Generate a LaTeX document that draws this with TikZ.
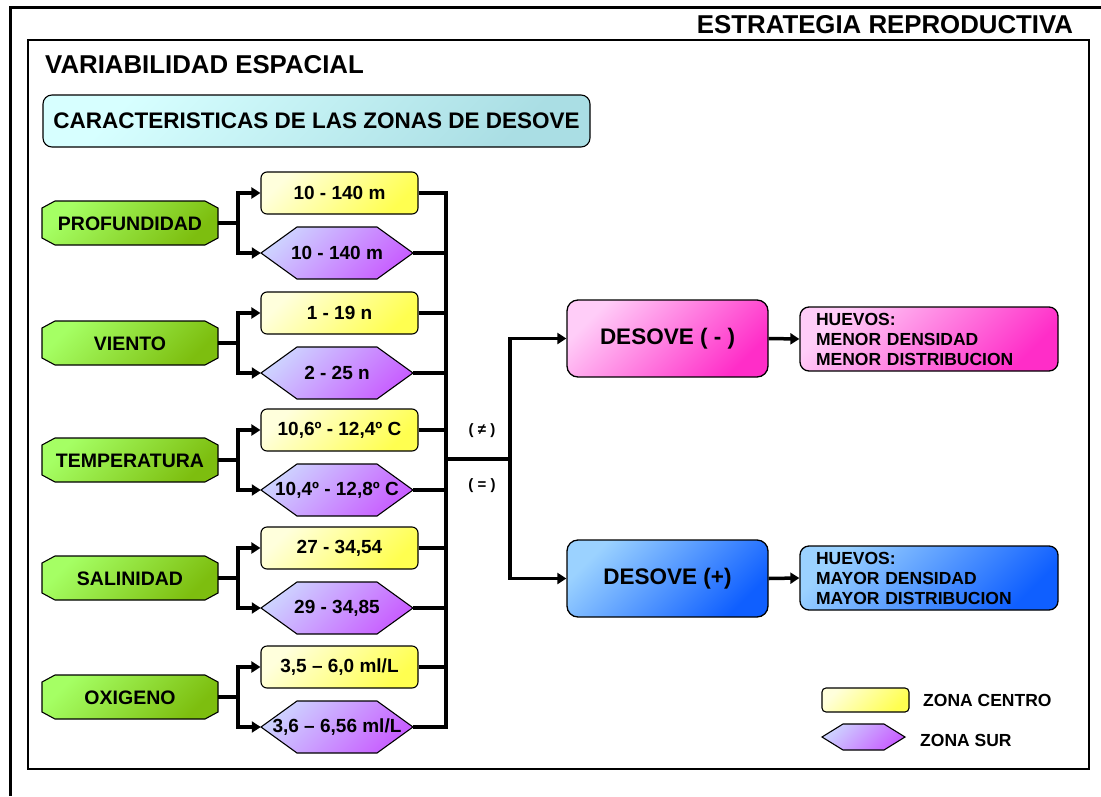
\documentclass[tikz,border=0pt]{standalone}
\usepackage{fontspec}
\setmainfont{Liberation Sans}
\usetikzlibrary{arrows.meta}
\definecolor{grnL}{RGB}{165,255,100}
\definecolor{grnD}{RGB}{125,190,15}
\definecolor{yelL}{RGB}{255,255,220}
\definecolor{yelD}{RGB}{255,255,80}
\definecolor{purL}{RGB}{205,210,255}
\definecolor{purD}{RGB}{200,95,255}
\definecolor{cyaL}{RGB}{215,255,255}
\definecolor{cyaD}{RGB}{170,222,228}
\definecolor{pnkL}{RGB}{255,205,248}
\definecolor{pnkD}{RGB}{255,45,200}
\definecolor{bluL}{RGB}{155,210,255}
\definecolor{bluD}{RGB}{15,95,255}

\newcommand\octnode[4]{%
  \path[octfill] ({#2-75},{#3-22}) -- ({#2+75},{#3-22}) -- ({#2+88},{#3-15}) -- ({#2+88},{#3+15}) -- ({#2+75},{#3+22}) -- ({#2-75},{#3+22}) -- ({#2-88},{#3+15}) -- ({#2-88},{#3-15}) -- cycle;
  \node[octtxt] (#1) at (#2,{#3+1}) {#4};}
\newcommand\hexnode[4]{%
  \path[hexfill] ({#2-76},{#3}) -- ({#2-40},{#3-26}) -- ({#2+40},{#3-26}) -- ({#2+76},{#3}) -- ({#2+40},{#3+26}) -- ({#2-40},{#3+26}) -- cycle;
  \node[hextxt] (#1) at (#2,{#3}) {#4};}
\newcommand\datarow[5]{%
  \octnode{g#1}{130}{#3}{#2}
  \node[ybox] (y#1) at (339.5,{#3-30}) {#4};
  \hexnode{h#1}{337}{#3+30}{#5}
  \coordinate (j#1) at (238,#3);
  \draw[conn] (g#1.east |- j#1) -- (j#1);
  \draw[arr] (j#1) |- (y#1.west);
  \draw[arr] (j#1) |- (h#1.west);}

\begin{document}
\begin{tikzpicture}[x=1pt,y=-1pt,
  conn/.style={line width=3.5pt, line join=miter},
  arr/.style={conn, -{Triangle[length=9pt,width=11pt]}},
  sh/.style 2 args={shade, left color=#1, right color=#2, shading angle=45},
  octfill/.style={sh={grnL}{grnD}, draw=black, line width=1.1pt},
  hexfill/.style={sh={purL}{purD}, draw=black, line width=1.1pt},
  octtxt/.style={minimum width=176pt, minimum height=44pt, inner sep=0pt, font=\fontsize{19.5}{21}\selectfont\bfseries},
  hextxt/.style={minimum width=152pt, minimum height=52pt, inner sep=0pt, font=\fontsize{19}{21}\selectfont\bfseries},
  ybox/.style={draw=black, line width=1.1pt, rounded corners=6pt, sh={yelL}{yelD}, minimum width=157pt, minimum height=42pt, inner sep=0pt, font=\fontsize{19}{21}\selectfont\bfseries},
  dbox/.style={draw=black, line width=1.3pt, rounded corners=11pt, minimum width=201pt, minimum height=77pt, inner sep=0pt, font=\fontsize{22.5}{25}\selectfont\bfseries},
  hbox/.style={draw=black, line width=1.3pt, rounded corners=9pt, minimum width=258pt, minimum height=64pt, text width=226pt, inner xsep=16pt, inner ysep=0pt, align=left, font=\fontsize{17.5}{20}\selectfont\bfseries},
  lbl/.style={inner sep=0pt, font=\fontsize{17.5}{20}\selectfont\bfseries}
]
\useasboundingbox (0,0) rectangle (1101,796);
% frames
\draw[line width=3pt] (1101,7) -- (10,7) -- (10,796);
\draw[line width=2pt] (28,40) rectangle (1089,769);
\node[inner sep=0pt, font=\fontsize{25.8}{28}\selectfont\bfseries] (title) at (885,25) {ESTRATEGIA REPRODUCTIVA};
\node[inner sep=0pt, anchor=west, font=\fontsize{25.8}{28}\selectfont\bfseries] (vari) at (45,65) {VARIABILIDAD ESPACIAL};
\node[draw=black, line width=1.1pt, rounded corners=9pt, sh={cyaL}{cyaD}, minimum width=547pt, minimum height=52pt, inner sep=0pt, font=\fontsize{22.5}{25}\selectfont\bfseries] (carac) at (316.5,121) {CARACTERISTICAS DE LAS ZONAS DE DESOVE};

% rows
\datarow{1}{PROFUNDIDAD}{223}{10 - 140 m}{10 - 140 m}
\datarow{2}{VIENTO}{343}{1 - 19 n}{2 - 25 n}
\datarow{3}{TEMPERATURA}{460}{10,6º - 12,4º C}{10,4º - 12,8º C}
\datarow{4}{SALINIDAD}{578}{27 - 34,54}{29 - 34,85}
\datarow{5}{OXIGENO}{697}{3,5 – 6,0 ml/L}{3,6 – 6,56 ml/L}

% bus
\coordinate (busX) at (446,0);
\draw[conn] (y1.east) -| (busX |- h5.east) -- (h5.east);
\foreach \n in {h1,y2,h2,y3,h3,y4,h4,y5}{\draw[conn] (\n.east) -- (\n.east -| busX);}
\coordinate (busM) at (446,459);
\coordinate (split) at (510,459);

% right side
\node[dbox, sh={pnkL}{pnkD}] (dmin) at (667.5,338.5) {DESOVE ( - )};
\node[dbox, sh={bluL}{bluD}] (dplus) at (667.5,578.5) {DESOVE (+)};
\node[hbox, sh={pnkL}{pnkD}] (hmin) at (929,339) {HUEVOS:\\MENOR DENSIDAD\\MENOR DISTRIBUCION};
\node[hbox, sh={bluL}{bluD}] (hplus) at (929,578) {HUEVOS:\\MAYOR DENSIDAD\\MAYOR DISTRIBUCION};
\draw[conn] (busM) -- (split);
\draw[arr] (split) |- (dmin.west);
\draw[arr] (split) |- (dplus.west);
\draw[arr] (dmin.east) -- (hmin.west);
\draw[arr] (dplus.east) -- (hplus.west);
\node[inner sep=0pt, font=\fontsize{15}{17}\selectfont\bfseries] (neq) at (482,431) {( ≠ )};
\node[inner sep=0pt, font=\fontsize{15}{17}\selectfont\bfseries] (eq) at (482,486) {( = )};

% legend
\node[draw=black, line width=1.1pt, rounded corners=4pt, sh={yelL}{yelD}, minimum width=87pt, minimum height=24pt, inner sep=0pt] (legC) at (865.5,700) {};
\path[hexfill] (822,737) -- (843,724) -- (884,724) -- (905,737) -- (884,750) -- (843,750) -- cycle;
\node[minimum width=83pt, minimum height=26pt, inner sep=0pt] (legS) at (863.5,737) {};
\node[lbl, anchor=west] (legCt) at (923,700) {ZONA CENTRO};
\node[lbl, anchor=west] (legSt) at (920,740) {ZONA SUR};
\end{tikzpicture}
\end{document}
